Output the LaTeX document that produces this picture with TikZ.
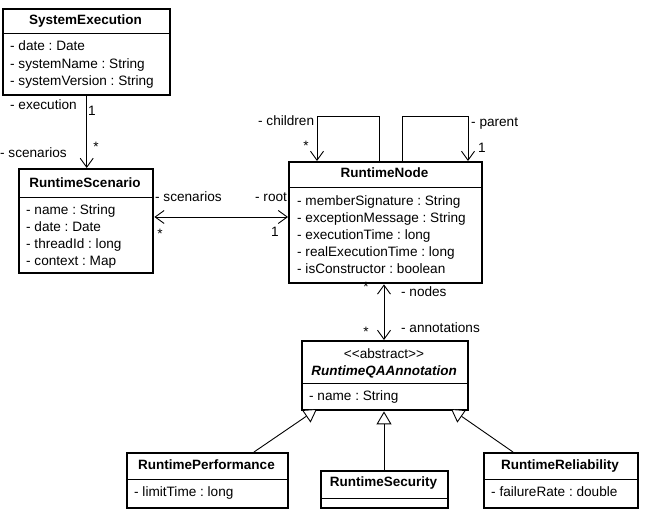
\documentclass[tikz,border=0pt]{standalone}
\usepackage{fontspec}
\setmainfont{Liberation Sans}
\usetikzlibrary{arrows.meta}
\frenchspacing
\newcommand{\umlf}{\fontsize{13.6}{16}\selectfont\frenchspacing}
\newcommand{\umlbf}{\fontsize{13.5}{16}\selectfont\bfseries}
\begin{document}
\begin{tikzpicture}[x=1pt,y=-1pt,
  cls/.style={draw, line width=2.4pt, inner sep=0, anchor=north west},
  txt/.style={inner sep=0, anchor=west, text height=9.6pt, text depth=2.8pt, font=\umlf},
  ttl/.style={inner sep=0, text height=9.6pt, text depth=2.8pt, font=\umlbf},
  lbl/.style={inner sep=0, text height=9.6pt, text depth=2.8pt, font=\umlf},
  divl/.style={line width=0.9pt},
  assoc/.style={line width=0.9pt},
  openarr/.style={-{Straight Barb[length=9pt,width=13pt,line width=0.9pt]}},
  biarr/.style={{Straight Barb[length=9pt,width=13pt,line width=0.9pt]}-{Straight Barb[length=9pt,width=13pt,line width=0.9pt]}},
  gen/.style={line width=0.9pt, -{Triangle[open,length=13pt,width=15pt,line width=0.9pt,fill=white]}}
]
\useasboundingbox (0,0) rectangle (651,518);

% SystemExecution
\node[cls, minimum width=167pt, minimum height=86pt] (se) at (2,8) {};
\node[ttl] (seT) at (85.5,21) {SystemExecution};
\draw[divl] (se.west |- 0,33) -- (se.east |- 0,33);
\node[txt] (se1) at (10,47) {- date : Date};
\node[txt] (se2) at (10,65) {- systemName : String};
\node[txt] (se3) at (10,82) {- systemVersion : String};

% RuntimeScenario
\node[cls, minimum width=134pt, minimum height=104pt] (rs) at (18,168) {};
\node[ttl] (rsT) at (85,184) {RuntimeScenario};
\draw[divl] (rs.west |- 0,197) -- (rs.east |- 0,197);
\node[txt] (rs1) at (26,211) {- name : String};
\node[txt] (rs2) at (26,228) {- date : Date};
\node[txt] (rs3) at (26,245) {- threadId : long};
\node[txt] (rs4) at (26,262) {- context : Map};

% RuntimeNode
\node[cls, minimum width=193pt, minimum height=121pt] (rn) at (288,161) {};
\node[ttl] (rnT) at (384.5,174) {RuntimeNode};
\draw[divl] (rn.west |- 0,187) -- (rn.east |- 0,187);
\node[txt] (rn1) at (297,202) {- memberSignature : String};
\node[txt] (rn2) at (297,219) {- exceptionMessage : String};
\node[txt] (rn3) at (297,236) {- executionTime : long};
\node[txt] (rn4) at (297,253) {- realExecutionTime : long};
\node[txt] (rn5) at (297,270) {- isConstructor : boolean};

% RuntimeQAAnnotation
\node[cls, minimum width=166pt, minimum height=69pt] (qa) at (301,340) {};
\node[lbl] (qaS) at (384,355) {<{}<abstract>{}>};
\node[ttl, font=\umlbf\itshape] (qaT) at (384,372) {RuntimeQAAnnotation};
\draw[divl] (qa.west |- 0,383) -- (qa.east |- 0,383);
\node[txt] (qa1) at (309,397) {- name : String};

% RuntimePerformance
\node[cls, minimum width=161pt, minimum height=55pt] (rp) at (126,452) {};
\node[ttl] (rpT) at (206.5,466) {RuntimePerformance};
\draw[divl] (rp.west |- 0,479) -- (rp.east |- 0,479);
\node[txt] (rp1) at (134,493) {- limitTime : long};

% RuntimeSecurity
\node[cls, minimum width=127pt, minimum height=37pt] (rsec) at (320,470) {};
\node[ttl] (rsecT) at (383.5,483) {RuntimeSecurity};
\draw[divl] (rsec.west |- 0,498) -- (rsec.east |- 0,498);

% RuntimeReliability
\node[cls, minimum width=154pt, minimum height=55pt] (rr) at (483,452) {};
\node[ttl] (rrT) at (560,466) {RuntimeReliability};
\draw[divl] (rr.west |- 0,479) -- (rr.east |- 0,479);
\node[txt] (rr1) at (491,493) {- failureRate : double};

% SystemExecution -> RuntimeScenario
\draw[assoc, openarr] (se.south) -- (se.south |- rs.north);
\node[txt] at (10,106) {- execution};
\node[lbl] at (92,112) {1};
\node[txt] at (0,154) {- scenarios};
\node[lbl] at (96,148) {*};

% RuntimeScenario <-> RuntimeNode
\draw[assoc, biarr] (rs.east |- 0,217) -- (rn.west |- 0,217);
\node[txt] at (155,198) {- scenarios};
\node[lbl] at (160,235) {*};
\node[txt] at (255,198) {- root};
\node[lbl] at (275,233) {1};

% children loop
\coordinate (c1) at (379,116);
\coordinate (c2) at (317,116);
\draw[assoc, openarr] (rn.north -| c1) -- (c1) -- (c2) -- (rn.north -| c2);
\node[txt] at (258,122) {- children};
\node[lbl] at (306,147) {*};

% parent loop
\coordinate (p1) at (402,116);
\coordinate (p2) at (468,116);
\draw[assoc, openarr] (rn.north -| p1) -- (p1) -- (p2) -- (rn.north -| p2);
\node[txt] at (471,123) {- parent};
\node[lbl] at (482,149) {1};

% RuntimeNode <-> RuntimeQAAnnotation
\draw[assoc, biarr] (rn.south -| 384,0) -- (qa.north -| 384,0);
\node[lbl] at (366,288) {*};
\node[txt] at (401,293) {- nodes};
\node[lbl] at (366,333) {*};
\node[txt] at (401,329) {- annotations};

% generalizations
\draw[gen] (rp.north -| 254,0) -- (317,409);
\draw[gen] (rsec.north -| 384,0) -- (qa.south -| 384,0);
\draw[gen] (rr.north -| 513,0) -- (451,409);
\end{tikzpicture}
\end{document}
